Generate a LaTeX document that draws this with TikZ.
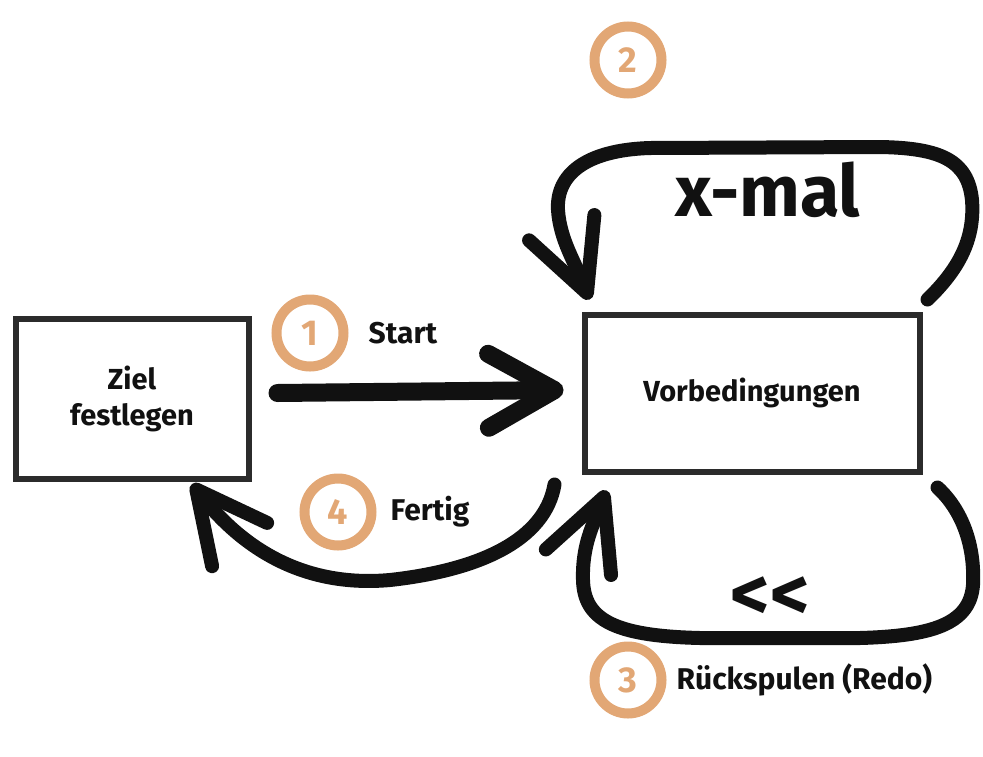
\documentclass[tikz,border=0pt]{standalone}
\usepackage{fontspec}
\setmainfont{Fira Sans}
\usepackage{xcolor}
\usepackage{tikz}
\usetikzlibrary{arrows.meta,positioning}
\definecolor{ink}{HTML}{111111}
\definecolor{frame}{HTML}{2B2B2B}
\definecolor{peach}{HTML}{E2A775}
\tikzset{
  stepbox/.style={draw=frame,line width=6pt,fill=white,align=center,font=\fontsize{29}{36}\selectfont\bfseries,text=ink},
  num/.style={circle,draw=peach,line width=10pt,minimum size=67pt,inner sep=0pt,text=peach,font=\fontsize{36}{36}\selectfont\bfseries},
  lbl/.style={font=\fontsize{30}{34}\selectfont\bfseries,text=ink,inner sep=0pt},
  flow/.style={line width=14pt,draw=ink,line cap=round,-{Straight Barb[length=70pt,width=70pt,round]}},
  bigflow/.style={line width=18pt,draw=ink,line cap=round,-{Straight Barb[length=66pt,width=74pt,round]}}
}

\begin{document}
\begin{tikzpicture}[x=1pt,y=-1pt]
  \useasboundingbox (0,0) rectangle (983,756);
  \node[stepbox,minimum width=233pt,minimum height=160pt] (ziel) at (132,399) {Ziel\\festlegen};
  \node[stepbox,minimum width=335pt,minimum height=157pt] (vorb) at (752,393) {Vorbedingungen};

  \node[num] (num1) at (310,333) {1};
  \node[lbl, right=20pt of num1] (start) {Start};
  \node[num] (num2) at (628,60) {2};
  \node[num] (num3) at (628,680) {3};
  \node[lbl, right=10pt of num3] (redo) {Rückspulen (Redo)};
  \node[num] (num4) at (338,512) {4};
  \node[lbl, right=14pt of num4] (fertig) {Fertig};

  \node[font=\fontsize{72}{72}\selectfont\bfseries,text=ink] (xmal) at (768,190) {x-mal};
  \node[font=\fontsize{76}{76}\selectfont\bfseries,text=ink] (back) at (770,599) {{<}{<}};

  % start
  \draw[bigflow] ([shift={(26,-6)}]ziel.east) -- ([shift={(-18,-3)}]vorb.west);
  % repeat x times
  \draw[flow] ([shift={(5,-12)}]vorb.north east)
    .. controls (958,270) and (975,240) .. (972,200)
    .. controls (968,160) and (940,148) .. (880,147) -- (650,148)
    .. controls (585,150) and (556,175) .. (558,210)
    .. controls (560,240) and (575,262) .. ([shift={(8,-12)}]vorb.north west);
  % redo
  \draw[flow] ([shift={(15,13)}]vorb.south east)
    .. controls (962,510) and (975,545) .. (973,585)
    .. controls (970,625) and (930,636) .. (860,638) -- (700,638)
    .. controls (615,636) and (584,620) .. (583,580)
    .. controls (582,545) and (593,525) .. ([shift={(25,16)}]vorb.south west);
  % done
  \draw[flow] ([shift={(-27,10)}]vorb.south west)
    .. controls (545,540) and (480,570) .. (390,580)
    .. controls (300,588) and (240,545) .. ([shift={(60,2)}]ziel.south);
\end{tikzpicture}
\end{document}
